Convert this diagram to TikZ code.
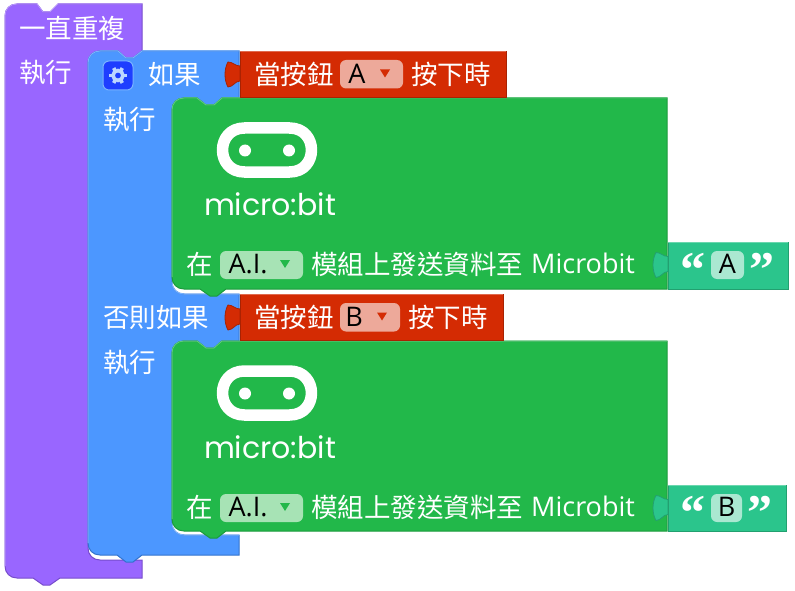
\documentclass[tikz,border=0pt]{standalone}
\usepackage{fontspec}
\setmainfont{Noto Sans CJK TC}
\newfontfamily\latinfont{Open Sans}
\newfontfamily\logofont{Poppins}
\newfontfamily\quotefont{Liberation Serif}

\definecolor{loopfill}{HTML}{9966FF}
\definecolor{loopdark}{HTML}{774DCB}
\definecolor{looplight}{HTML}{B794FF}
\definecolor{iffill}{HTML}{4C97FF}
\definecolor{ifdark}{HTML}{3373CC}
\definecolor{iflight}{HTML}{7AB3FF}
\definecolor{gearfill}{HTML}{1E3EFF}
\definecolor{gearteeth}{HTML}{BCD6FF}
\definecolor{microfill}{HTML}{22B84A}
\definecolor{microdark}{HTML}{1C9A3D}
\definecolor{microlight}{HTML}{5CCB7A}
\definecolor{microdrop}{HTML}{A7E3B5}
\definecolor{pressfill}{HTML}{D42B03}
\definecolor{pressdark}{HTML}{A82202}
\definecolor{presslight}{HTML}{E06A4E}
\definecolor{pressdrop}{HTML}{EDA99A}
\definecolor{textfill}{HTML}{2BC58C}
\definecolor{textdark}{HTML}{22A070}
\definecolor{textlight}{HTML}{6AD7AE}
\definecolor{textdrop}{HTML}{AAE8D1}

\tikzset{
  lbl/.style={text=white, anchor=west, inner sep=0pt, font=\fontsize{26.5}{26.5}\selectfont},
  droptext/.style={text=black, inner sep=0pt, font=\latinfont\fontsize{27}{27}\selectfont},
  latin/.style={text=white, anchor=west, inner sep=0pt, font=\latinfont\fontsize{27}{27}\selectfont},
  quotes/.style={text=white, inner sep=0pt, font=\quotefont\bfseries\fontsize{50}{50}\selectfont}
}

\begin{document}
\begin{tikzpicture}[x=1pt, y=-1pt]
    \useasboundingbox (0,0) rectangle (795,591);

    % socket[x, y, fill, dark]
    \def\socket[#1, #2, #3, #4]{
    \fill[#3, draw=#4, line width=0.8] (#1+15,#2+4) .. controls (#1+10,#2+4) and (#1+8,#2) .. (#1+3,#2)
      .. controls (#1-1,#2+7) and (#1-1,#2+18) .. (#1+3,#2+25)
      .. controls (#1+8,#2+25) and (#1+10,#2+19) .. (#1+15,#2+19) -- cycle;
    }

    % pressblock[vOffset, letter, hShift]
    \def\pressblock[#1, #2, #3]{
    \fill[pressfill, draw=pressdark, line width=0.8] (240,#1) rectangle (506-#3,#1+45.5);
    \draw[presslight, line width=1] (240,#1) -- (506-#3,#1);
    \socket[225, #1+10.5, pressfill, pressdark]
    \node[lbl] (pressword#2) at (254,#1+22.5) {當按鈕};
    \fill[pressdrop] (340,#1+8.5) [rounded corners=6pt] rectangle (403-#3,#1+37);
    \node[droptext] (pressletter#2) at (357-#3,#1+22.5) {#2};
    \fill[pressfill] (380-#3,#1+18) -- (390-#3,#1+18) -- (385-#3,#1+26) -- cycle;
    \node[lbl] (pressend#2) at (411-#3,#1+22.5) {按下時};
    }

    % microblock[vOffset, height, letter, hShift]
    \def\microblock[#1, #2, #3, #4]{
    \fill[microfill, draw=microdark, line width=1] (172,#1+12) .. controls (172,#1+5) and (177,#1) .. (184,#1)
      -- (197,#1) -- (206,#1+7) -- (214,#1+7) -- (222,#1) -- (667,#1) -- (667,#1+#2)
      -- (226,#1+#2) -- (217,#1+#2+7) -- (210,#1+#2+7) -- (200,#1+#2) -- (184,#1+#2)
      .. controls (177,#1+#2) and (172,#1+#2-5) .. (172,#1+#2-12) -- cycle;
    \draw[microlight, line width=1] (172,#1+#2-12) -- (172,#1+12) .. controls (172,#1+5) and (177,#1) .. (184,#1)
      -- (197,#1) -- (206,#1+7) -- (214,#1+7) -- (222,#1) -- (667,#1);
    % logo
    \draw[white, line width=11.5] (244.5,#1+30) -- (289.5,#1+30)
      .. controls (318.8,#1+30) and (318.8,#1+74) .. (289.5,#1+74)
      -- (244.5,#1+74) .. controls (215.2,#1+74) and (215.2,#1+30) .. (244.5,#1+30) -- cycle;
    \fill[white] (245,#1+52.5) circle[radius=6pt];
    \fill[white] (289,#1+52.5) circle[radius=6pt];
    \node[text=white, inner sep=0pt, font=\logofont\fontsize{30}{30}\selectfont] (micrologo#3) at (270,#1+106) {micro:bit};
    % bottom row
    \node[lbl] (microat#3) at (186,#1+166.5) {在};
    \fill[microdrop] (220,#1+153) [rounded corners=6pt] rectangle (303,#1+181);
    \node[droptext] (microdrop#3) at (248,#1+166) {A.I.};
    \fill[microfill] (280,#1+162) -- (290,#1+162) -- (285,#1+170) -- cycle;
    \node[lbl] (microsend#3) at (311,#1+166.5) {模組上發送資料至};
    \node[latin] (microname#3) at (531,#1+165) {Microbit};
    \socket[653, #1+154.5, textfill, textdark]
    % text value
    \fill[textfill, draw=textdark, line width=1] (668,#1+144.5) rectangle (788-#4,#1+#2);
    \draw[textlight, line width=1] (668,#1+144.5) -- (788-#4,#1+144.5);
    \fill[textdrop] (711,#1+153) [rounded corners=6pt] rectangle (744-#4,#1+181);
    \node[droptext] (textletter#3) at (727.5-#4/2,#1+166) {#3};
    \node[quotes] (openquote#3) at (693,#1+172) {“};
    \node[quotes] (closequote#3) at (762-#4,#1+172) {”};
    }

    % forever loop
    \fill[loopfill, draw=loopdark, line width=1] (5,16) .. controls (5,9) and (10,4) .. (17,4)
      -- (37,4) -- (43,12) -- (50,12) -- (58,4) -- (142,4) -- (142,51)
      -- (133,58) -- (126,58) -- (118,51) -- (100,51) .. controls (93,51) and (88,56) .. (88,63)
      -- (88,548) .. controls (88,555) and (93,560) .. (100,560) -- (142,560) -- (142,578)
      -- (60,578) -- (50,585) -- (43,585) -- (33,578) -- (17,578)
      .. controls (10,578) and (5,573) .. (5,566) -- cycle;
    \draw[looplight, line width=1] (5,566) -- (5,16) .. controls (5,9) and (10,4) .. (17,4)
      -- (37,4) -- (43,12) -- (50,12) -- (58,4) -- (142,4);
    \node[lbl] (loopname) at (19,28.5) {一直重複};
    \node[lbl] (loopdo) at (19,72.5) {執行};

    % if block
    \fill[iffill, draw=ifdark, line width=1] (88,63) .. controls (88,56) and (93,51) .. (100,51)
      -- (118,51) -- (126,58) -- (133,58) -- (142,51) -- (239,51) -- (239,98)
      -- (222,98) -- (214,105) -- (206,105) -- (197,98) -- (184,98)
      .. controls (177,98) and (172,103) .. (172,110) -- (172,282)
      .. controls (172,289) and (177,294) .. (184,294) -- (239,294) -- (239,341)
      -- (222,341) -- (214,348) -- (206,348) -- (197,341) -- (184,341)
      .. controls (177,341) and (172,346) .. (172,353) -- (172,523)
      .. controls (172,530) and (177,535) .. (184,535) -- (239,535) -- (239,555)
      -- (142,555) -- (133,562) -- (126,562) -- (117,555) -- (100,555)
      .. controls (93,555) and (88,550) .. (88,543) -- cycle;
    \draw[iflight, line width=1] (88,543) -- (88,63) .. controls (88,56) and (93,51) .. (100,51)
      -- (118,51) -- (126,58) -- (133,58) -- (142,51) -- (239,51);
    \draw[iflight, line width=1] (172,282) .. controls (172,289) and (177,294) .. (184,294) -- (239,294);
    \draw[iflight, line width=1] (172,523) .. controls (172,530) and (177,535) .. (184,535) -- (239,535);

    % gear button
    \fill[gearfill, draw=iflight, line width=1] (103,61) [rounded corners=6pt] rectangle (133,90);
    \draw[gearteeth, line width=3.6] (118,75.5) circle[radius=5pt];
    \foreach \a in {0,60,...,300}
      \draw[gearteeth, line width=3.6] (118,75.5) ++(\a:6) -- ++(\a:2.6);
    \node[lbl] (ifname) at (148,74.5) {如果};
    \node[lbl] (ifdo) at (103,119.5) {執行};
    \node[lbl] (elsename) at (103,317.5) {否則如果};
    \node[lbl] (elsedo) at (103,362.5) {執行};

    \microblock[98, 191, A, 0]
    \microblock[341, 190, B, 2]
    \pressblock[51.5, A, 0]
    \pressblock[294.5, B, 3]

\end{tikzpicture}
\end{document}
